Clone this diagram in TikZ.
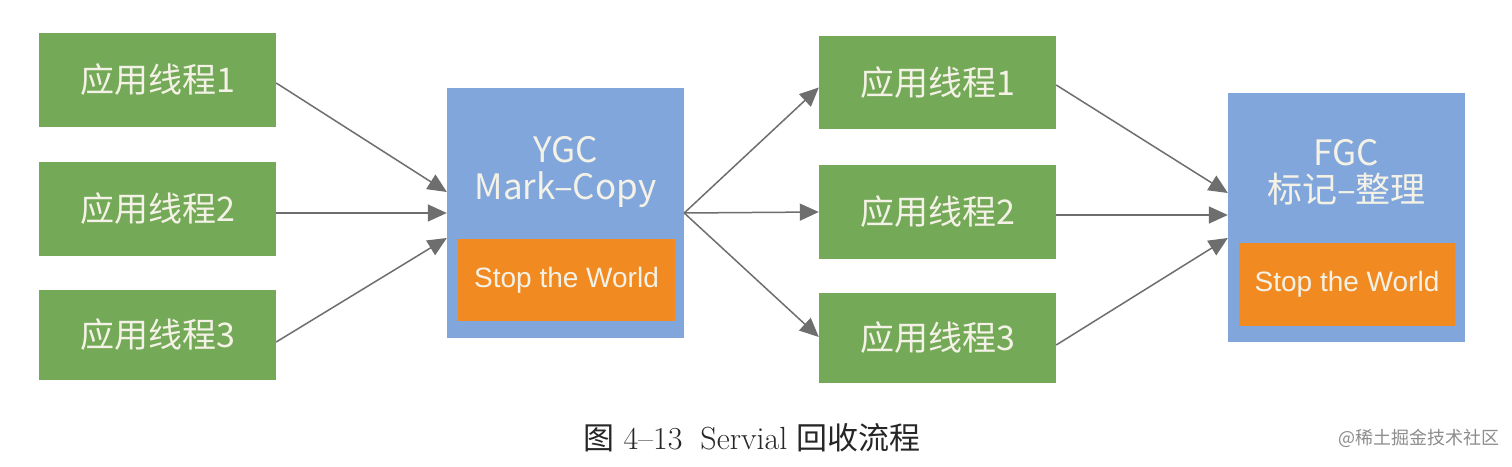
\documentclass[tikz,border=0pt]{standalone}
\usepackage{fontspec}
\setmainfont{Latin Modern Roman}
\newfontfamily\cjk{Noto Sans CJK SC}
\newfontfamily\arialf{Liberation Sans}
\usetikzlibrary{arrows.meta,calc}
\definecolor{gfill}{HTML}{74A957}
\definecolor{bfill}{HTML}{80A6DB}
\definecolor{ofill}{HTML}{F28A22}
\definecolor{txtc}{HTML}{F4F2E6}
\definecolor{arrc}{HTML}{6E6E6E}
\begin{document}
\begin{tikzpicture}[x=1pt,y=-1pt,
  gbox/.style={fill=gfill, draw=none, minimum width=237pt, inner sep=0pt, text=txtc, font=\cjk\fontsize{34}{40}\selectfont},
  bbox/.style={fill=bfill, draw=none, minimum width=237pt, inner sep=0pt},
  obox/.style={fill=ofill, draw=none, inner sep=0pt, text=txtc, font=\arialf\fontsize{28}{32}\selectfont},
  btext/.style={text=txtc, font=\cjk\fontsize{35}{40}\selectfont, align=center, inner sep=0pt},
  conn/.style={draw=arrc, line width=1.5pt, -{Triangle[length=19pt,width=17pt]}}
]
\useasboundingbox (0,0) rectangle (1512,466);
\fill[white] (0,0) rectangle (1512,466);
% left threads
\node[gbox, minimum height=94pt] (l1) at (157.5,80) {应用线程1};
\node[gbox, minimum height=94pt] (l2) at (157.5,209) {应用线程2};
\node[gbox, minimum height=90pt] (l3) at (157.5,335) {应用线程3};
% YGC
\node[bbox, minimum height=250pt] (ygc) at (565.5,213) {};
\node[btext] (ygct) at (565.5,172) {YGC\\[-3pt]Mark–Copy};
\node[obox, minimum width=217pt, minimum height=82pt] (ygcs) at (566.5,280) {Stop the World};
% middle threads
\node[gbox, minimum height=93pt] (m1) at (937.5,82.5) {应用线程1};
\node[gbox, minimum height=94pt] (m2) at (937.5,212) {应用线程2};
\node[gbox, minimum height=90pt] (m3) at (937.5,338) {应用线程3};
% FGC
\node[bbox, minimum height=249pt] (fgc) at (1346.5,217.5) {};
\node[btext] (fgct) at (1346.5,172) {FGC\\[-3pt]标记–整理};
\node[obox, minimum width=216pt, minimum height=83pt] (fgcs) at (1347,284.5) {Stop the World};
% connectors
\draw[conn] ($(l1.east)+(0,3)$) -- ($(ygc.west)+(0,-21)$);
\draw[conn] ($(l2.east)+(0,4)$) -- (ygc.west);
\draw[conn] ($(l3.east)+(0,7)$) -- ($(ygc.west)+(0,25)$);
\draw[conn] (ygc.east) -- ($(m1.west)+(0,5)$);
\draw[conn] (ygc.east) -- (m2.west);
\draw[conn] (ygc.east) -- ($(m3.west)+(0,-1)$);
\draw[conn] ($(m1.east)+(0,2.5)$) -- ($(fgc.west)+(0,-24.5)$);
\draw[conn] ($(m2.east)+(0,3)$) -- ($(fgc.west)+(0,-2.5)$);
\draw[conn] ($(m3.east)+(0,7)$) -- ($(fgc.west)+(0,20.5)$);
% caption
\node[anchor=center, inner sep=0pt, text=black!85] (cap) at (752,438)
  {\fontsize{32}{36}\selectfont{\cjk\fontsize{31}{36}\selectfont 图}\ 4--13\hspace{18pt}Servial\ {\cjk\fontsize{31}{36}\selectfont 回收流程}};
\node[anchor=east, inner sep=0pt, text=black!45] (wm) at (1500,438)
  {\cjk\fontsize{18}{22}\selectfont @稀土掘金技术社区};
\end{tikzpicture}
\end{document}
